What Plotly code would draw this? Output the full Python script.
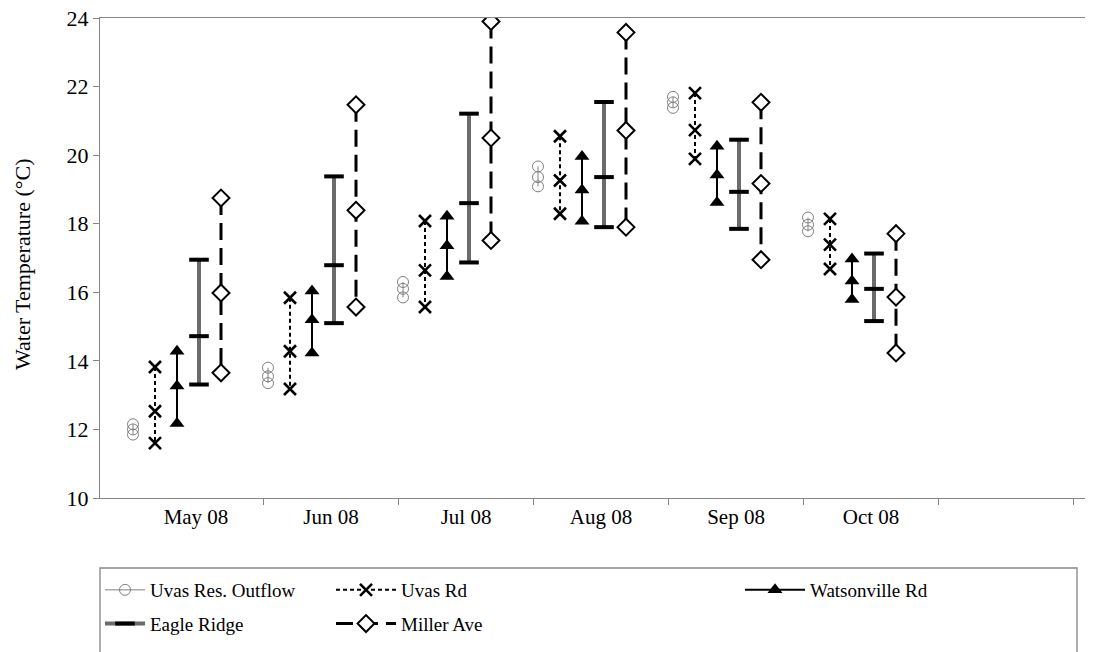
import plotly.graph_objects as go

# Monthly water temperature summary (°C): daily max, mean and min per site
months = ["May 08", "Jun 08", "Jul 08", "Aug 08", "Sep 08", "Oct 08"]

uvas_res_max = [12.15, 13.80, 16.30, 19.67, 21.70, 18.18]
uvas_res_mean = [12.00, 13.55, 16.10, 19.36, 21.54, 17.97]
uvas_res_min = [11.85, 13.35, 15.85, 19.09, 21.38, 17.78]

uvas_rd_max = [13.82, 15.84, 18.08, 20.55, 21.81, 18.14]
uvas_rd_mean = [12.53, 14.28, 16.64, 19.26, 20.73, 17.39]
uvas_rd_min = [11.60, 13.18, 15.57, 18.29, 19.89, 16.68]

watsonville_max = [14.28, 16.04, 18.22, 19.96, 20.26, 16.97]
watsonville_mean = [13.27, 15.20, 17.36, 18.98, 19.42, 16.33]
watsonville_min = [12.17, 14.23, 16.46, 18.07, 18.62, 15.79]

eagle_max = [16.95, 19.38, 21.21, 21.55, 20.45, 17.13]
eagle_mean = [14.72, 16.79, 18.60, 19.36, 18.93, 16.10]
eagle_min = [13.31, 15.10, 16.87, 17.90, 17.85, 15.16]

miller_max = [18.75, 21.47, 23.90, 23.58, 21.54, 17.71]
miller_mean = [15.98, 18.39, 20.50, 20.72, 19.17, 15.86]
miller_min = [13.65, 15.57, 17.51, 17.90, 16.95, 14.23]

FONT = "Liberation Serif"
GREY_AXIS = "#868686"

W, H = 1099, 652
L, R, T, B = 100, 14, 18, 154
plot_w = W - L - R
plot_h = H - T - B
MONTH_PX = 135.0          # width of one month on the x axis
SLOT = 22.0 / MONTH_PX    # spacing between the five sites within a month
FIRST = 33.0 / MONTH_PX   # offset of the first site from the month start
LABEL_OFF = 96.0 / MONTH_PX


def hilo(offset, hi, mid, lo):
    """Vertical max-mean-min segments, one per month, separated by gaps."""
    xs, ys = [], []
    for i in range(len(months)):
        xs += [i + offset] * 3 + [None]
        ys += [hi[i], mid[i], lo[i], None]
    return xs, ys


series = [
    dict(name="Uvas Res. Outflow", data=(uvas_res_max, uvas_res_mean, uvas_res_min),
         line=dict(color="#808080", width=1),
         marker=dict(symbol="circle-open", size=11, color="#808080", line=dict(width=1, color="#808080")),
         legend="legend"),
    dict(name="Uvas Rd", data=(uvas_rd_max, uvas_rd_mean, uvas_rd_min),
         line=dict(color="black", width=2, dash="4px,3px"),
         marker=dict(symbol="x-thin", size=12, color="black", line=dict(width=2.6, color="black")),
         legend="legend2"),
    dict(name="Watsonville Rd", data=(watsonville_max, watsonville_mean, watsonville_min),
         line=dict(color="black", width=2),
         marker=dict(symbol="triangle-up", size=13, color="black", line=dict(width=0)),
         legend="legend3"),
    dict(name="Eagle Ridge", data=(eagle_max, eagle_mean, eagle_min),
         line=dict(color="#6b6b6b", width=4),
         marker=dict(symbol="line-ew", size=14, color="black", line=dict(width=4, color="black")),
         legend="legend"),
    dict(name="Miller Ave", data=(miller_max, miller_mean, miller_min),
         line=dict(color="black", width=3, dash="17px,8px"),
         marker=dict(symbol="diamond", size=13, color="white", line=dict(width=2, color="black")),
         legend="legend2"),
]

fig = go.Figure()
for k, s in enumerate(series):
    xs, ys = hilo(FIRST + k * SLOT, *s["data"])
    fig.add_trace(go.Scatter(
        x=xs, y=ys, name=s["name"], mode="lines+markers",
        line=s["line"], marker=s["marker"], connectgaps=False,
        legend=s["legend"], legendgroup=s["name"], hoverinfo="skip",
    ))

x_end = plot_w / MONTH_PX

fig.update_xaxes(
    range=[0, x_end],
    tickmode="array",
    tickvals=[i + LABEL_OFF for i in range(len(months))],
    ticktext=months,
    tickangle=0,
    ticks="",
    automargin=False,
    showline=True, linecolor=GREY_AXIS, linewidth=1.3, mirror=True,
    showgrid=False, zeroline=False,
    tickfont=dict(family=FONT, size=21, color="black"),
    minor=dict(tickmode="array",
               tickvals=[i + LABEL_OFF - 0.5 for i in range(1, len(months) + 2)],
               ticks="outside", ticklen=6, tickcolor=GREY_AXIS, tickwidth=1, showgrid=False),
)
fig.update_yaxes(
    range=[10, 24], dtick=2, tick0=10,
    ticks="outside", ticklen=6, tickcolor=GREY_AXIS, tickwidth=1,
    showline=True, linecolor=GREY_AXIS, linewidth=1.3,
    showgrid=False, zeroline=False, automargin=False,
    tickfont=dict(family=FONT, size=22, color="black"),
)

# Vertical axis title
fig.add_annotation(text="Water Temperature (°C)", xref="paper", yref="paper",
                   x=(22 - L) / plot_w, y=(H - B - 264) / plot_h, textangle=-90,
                   showarrow=False, xanchor="center", yanchor="middle",
                   font=dict(family=FONT, size=22, color="black"))


def px_to_paper_x(px):
    return (px - L) / plot_w


def py_to_paper_y(py):
    return (H - B - py) / plot_h


# Box framing the key below the plot
fig.add_shape(type="rect", xref="paper", yref="paper",
              x0=px_to_paper_x(100), x1=px_to_paper_x(1077),
              y0=py_to_paper_y(668), y1=py_to_paper_y(568),
              line=dict(color=GREY_AXIS, width=1.3), fillcolor="rgba(0,0,0,0)")

legend_style = dict(
    xref="container", yref="container", xanchor="left", yanchor="top",
    orientation="v", bgcolor="rgba(0,0,0,0)", borderwidth=0,
    font=dict(family=FONT, size=19, color="black"),
    tracegroupgap=6, itemclick=False, itemdoubleclick=False,
)
legend_top = 1 - 571 / H

fig.update_layout(
    width=W, height=H,
    margin=dict(l=L, r=R, t=T, b=B, pad=0, autoexpand=False),
    paper_bgcolor="white", plot_bgcolor="white",
    showlegend=True,
    font=dict(family=FONT),
    legend=dict(x=100 / W, y=legend_top, itemwidth=40, **legend_style),
    legend2=dict(x=331 / W, y=legend_top, itemwidth=60, **legend_style),
    legend3=dict(x=740 / W, y=legend_top, itemwidth=60, **legend_style),
)

fig.write_html("out.html")
